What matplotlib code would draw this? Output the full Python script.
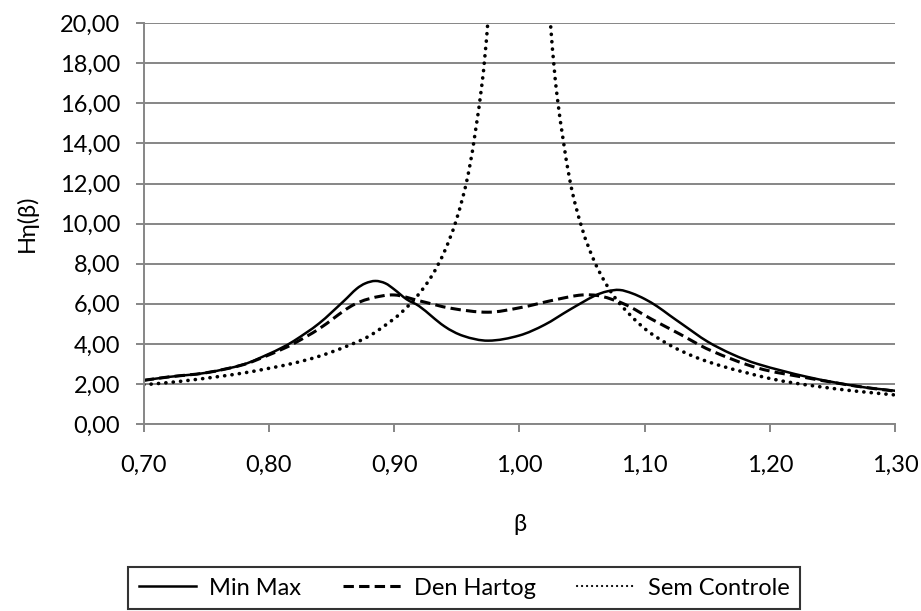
import matplotlib
matplotlib.use("Agg")
import matplotlib.pyplot as plt
from matplotlib.path import Path
from matplotlib.patches import PathPatch
from matplotlib.ticker import FuncFormatter, MultipleLocator

# --- valeurs ---
beta_minmax = [0.70, 0.72, 0.75, 0.78, 0.80, 0.81, 0.82, 0.84, 0.86, 0.87, 0.877,
               0.885, 0.893, 0.90, 0.91, 0.92, 0.94, 0.955, 0.975, 1.00, 1.02, 1.04,
               1.06, 1.07, 1.08, 1.09, 1.10, 1.11, 1.12, 1.13, 1.15, 1.17, 1.19,
               1.23, 1.27, 1.30]
h_minmax = [2.18, 2.35, 2.56, 2.98, 3.50, 3.80, 4.15, 5.02, 6.15, 6.75, 7.02,
            7.14, 7.02, 6.72, 6.22, 5.88, 4.88, 4.40, 4.16, 4.42, 4.95, 5.70,
            6.40, 6.62, 6.69, 6.52, 6.24, 5.87, 5.42, 4.98, 4.12, 3.48, 3.00,
            2.35, 1.88, 1.66]

beta_denhartog = [0.70, 0.72, 0.75, 0.78, 0.80, 0.81, 0.82, 0.84, 0.865, 0.88, 0.90,
                  0.92, 0.945, 0.975, 1.00, 1.03, 1.05, 1.065, 1.085, 1.105, 1.128,
                  1.152, 1.19, 1.23, 1.27, 1.30]
h_denhartog = [2.18, 2.35, 2.56, 2.97, 3.45, 3.72, 4.02, 4.75, 5.86, 6.25, 6.44,
               6.15, 5.78, 5.58, 5.80, 6.22, 6.44, 6.38, 5.95, 5.25, 4.49,
               3.69, 2.80, 2.30, 1.88, 1.64]

beta_semcontrole = [0.70, 0.72, 0.74, 0.76, 0.78, 0.80, 0.82, 0.84, 0.86, 0.88, 0.90,
                    0.91, 0.92, 0.93, 0.94, 0.95, 0.96, 0.97, 0.975, 0.98, 0.985,
                    1.015, 1.02, 1.025, 1.03, 1.04, 1.05, 1.06, 1.07, 1.08, 1.10, 1.12,
                    1.14, 1.16, 1.18, 1.20, 1.22, 1.24, 1.26, 1.28, 1.30]
h_semcontrole = [1.96, 2.07, 2.21, 2.37, 2.55, 2.78, 3.04, 3.38, 3.83, 4.39, 5.26,
                 5.82, 6.51, 7.39, 8.59, 10.26, 12.76, 16.92, 20.25, 25.3, 33.8,
                 33.3, 24.75, 19.8, 16.4, 12.25, 9.76, 8.09, 6.90, 6.01, 4.76, 3.94,
                 3.35, 2.92, 2.58, 2.27, 2.04, 1.86, 1.70, 1.57, 1.45]

labels = ['Min Max', 'Den Hartog', 'Sem Controle']

plt.rcParams['font.family'] = ['Lato', 'DejaVu Sans']
plt.rcParams['font.size'] = 17

gray = '#868686'


def smooth_path(xs, ys):
    """courbe lissée (Hermite cubique) comme les lignes lissées d'Excel"""
    n = len(xs)
    slopes = []
    for i in range(n):
        a = max(i - 1, 0)
        b = min(i + 1, n - 1)
        slopes.append((ys[b] - ys[a]) / (xs[b] - xs[a]))
    verts = [(xs[0], ys[0])]
    codes = [Path.MOVETO]
    for i in range(n - 1):
        h = xs[i + 1] - xs[i]
        verts.append((xs[i] + h / 3, ys[i] + slopes[i] * h / 3))
        verts.append((xs[i + 1] - h / 3, ys[i + 1] - slopes[i + 1] * h / 3))
        verts.append((xs[i + 1], ys[i + 1]))
        codes += [Path.CURVE4] * 3
    return Path(verts, codes)


fig = plt.figure(figsize=(9.21, 6.11), dpi=100)
ax = fig.add_axes([0.156, 0.306, 0.816, 0.656])

styles = [
    dict(lw=1.8, linestyle='-'),
    dict(lw=2.2, linestyle=(0, (3.4, 1.7))),
    dict(lw=2.6, linestyle=(0, (0.05, 2.0))),
]
series = [(beta_minmax, h_minmax), (beta_denhartog, h_denhartog),
          (beta_semcontrole, h_semcontrole)]

handles = []
for (xs, ys), st, lab in zip(series, styles, labels):
    cap = 'round' if lab == 'Sem Controle' else 'butt'
    patch = PathPatch(smooth_path(xs, ys), fill=False, edgecolor='black',
                      capstyle=cap, **st)
    ax.add_patch(patch)
    leg_st = dict(st)
    if lab == 'Sem Controle':
        leg_st = dict(lw=1.6, linestyle=(0, (0.05, 2.2)))
    h, = ax.plot([], [], color='black', label=lab, dash_capstyle=cap, **leg_st)
    handles.append(h)

ax.set_xlim(0.70, 1.30)
ax.set_ylim(0, 20)
ax.xaxis.set_major_locator(MultipleLocator(0.10))
ax.yaxis.set_major_locator(MultipleLocator(2.0))
fmt = FuncFormatter(lambda v, pos: f'{v:.2f}'.replace('.', ','))
ax.xaxis.set_major_formatter(fmt)
ax.yaxis.set_major_formatter(fmt)

ax.grid(axis='y', color=gray, lw=1.4)
ax.set_axisbelow(True)
for side in ['top', 'right']:
    ax.spines[side].set_visible(False)
for side in ['left', 'bottom']:
    ax.spines[side].set_color(gray)
    ax.spines[side].set_linewidth(1.4)
ax.tick_params(axis='both', colors=gray, width=1.4, length=6, labelcolor='black')
ax.tick_params(axis='x', pad=16)
ax.tick_params(axis='y', pad=11)

ax.set_xlabel('β', labelpad=28)
ax.set_ylabel('Hη(β)', labelpad=16)

leg = fig.legend(handles=handles, loc='upper left',
                 bbox_to_anchor=(128 / 921, 1 - 567 / 611),
                 ncol=3, frameon=True, fancybox=False, edgecolor='black',
                 handlelength=2.45, handletextpad=0.55, columnspacing=1.75,
                 borderpad=0.45, borderaxespad=0)
leg.get_frame().set_linewidth(1.5)

fig.savefig('out.png', dpi=100)
